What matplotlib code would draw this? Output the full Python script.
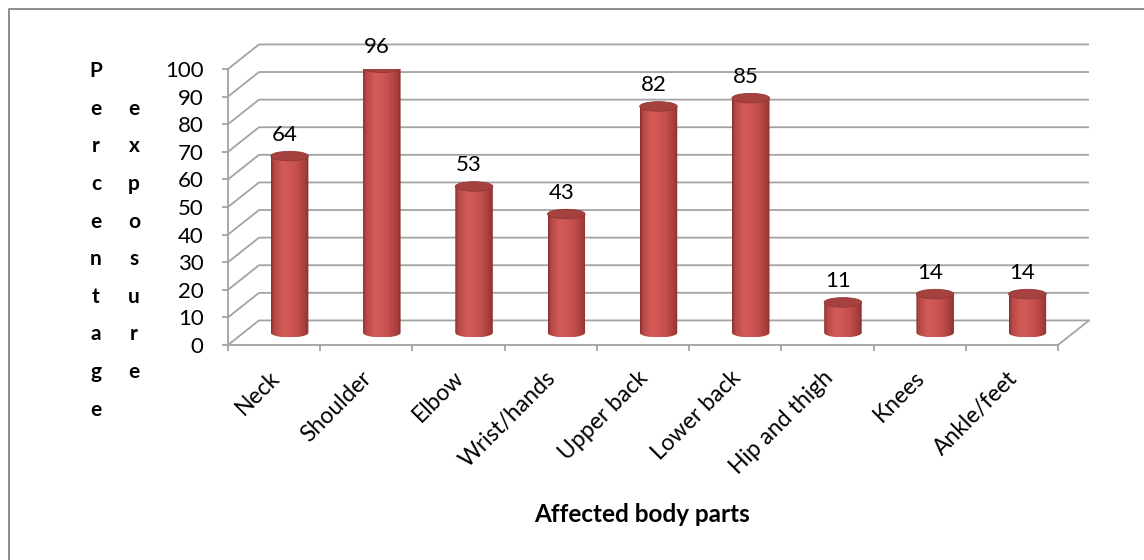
import numpy as np
import matplotlib
matplotlib.use('Agg')
import matplotlib.pyplot as plt
from matplotlib.patches import PathPatch, Ellipse
from matplotlib.path import Path
from matplotlib.colors import LinearSegmentedColormap

# data
parts = ['Neck', 'Shoulder', 'Elbow', 'Wrist/hands', 'Upper back',
         'Lower back', 'Hip and thigh', 'Knees', 'Ankle/feet']
exposure = [64, 96, 53, 43, 82, 85, 11, 14, 14]
y_ticks = list(range(0, 101, 10))
y_title_1 = 'Percentage'
y_title_2 = 'exposure'
x_title = 'Affected body parts'

plt.rcParams['font.family'] = ['Lato', 'DejaVu Sans']

W, H = 1144, 560
fig = plt.figure(figsize=(W / 100, H / 100), dpi=100)
ax = fig.add_axes([228 / W, (H - 345) / H, 830 / W, 276 / H])

# fake 3d depth of the walls (data units)
dx, dy = 0.336, 8.9
grid_col = '#a3a3a3'
n = len(parts)

# left wall + back wall gridlines
for v in y_ticks:
    ax.plot([0, dx, n + dx], [v, v + dy, v + dy], color=grid_col, lw=1.3,
            clip_on=False, zorder=1, solid_capstyle='butt')
# right edge of floor
ax.plot([n, n + dx], [0, dy], color=grid_col, lw=1.3, clip_on=False, zorder=1)

# cylinders
cyl_cmap = LinearSegmentedColormap.from_list('cyl', [
    (0.0, '#8a2f2d'), (0.08, '#b44845'), (0.3, '#d25a57'), (0.45, '#d05855'),
    (0.7, '#c24e4b'), (0.9, '#a53d3b'), (1.0, '#8e302e')])
grad = np.linspace(0, 1, 256).reshape(1, -1)
w = 0.407
ry = 1.72
t = np.linspace(np.pi, 2 * np.pi, 50)
for i, v in enumerate(exposure):
    cx = i + 0.5 + dx / 2
    yb = dy / 2
    yt = v + dy / 2
    x0, x1 = cx - w / 2, cx + w / 2
    verts = [(x0, yt)] + list(zip(cx + w / 2 * np.cos(t), yb + ry * np.sin(t))) \
        + [(x1, yt), (x0, yt)]
    body = PathPatch(Path(verts), transform=ax.transData)
    im = ax.imshow(grad, cmap=cyl_cmap, extent=[x0, x1, yb - ry, yt],
                   aspect='auto', origin='lower', zorder=3)
    im.set_clip_path(body)
    ax.add_patch(Ellipse((cx, yt), w, 2 * ry, facecolor='#a5423f',
                         edgecolor='#933533', lw=0.6, zorder=4))
    ax.text(cx - 0.055, yt + 7.6, str(v), ha='center', va='center',
            fontsize=16, zorder=5)

ax.set_xlim(0, n)
ax.set_ylim(0, 100)
ax.set_facecolor('none')
for s in ['top', 'right']:
    ax.spines[s].set_visible(False)
for s in ['left', 'bottom']:
    ax.spines[s].set_color(grid_col)
    ax.spines[s].set_linewidth(1.3)

ax.set_yticks(y_ticks)
ax.tick_params(axis='y', direction='out', length=4.5, width=1.3,
               color=grid_col, labelsize=16, pad=13)
ax.set_xticks(range(n + 1))
ax.set_xticklabels([])
ax.tick_params(axis='x', which='major', direction='out', length=4.5,
               width=1.3, color=grid_col)
ax.set_xticks(np.arange(n) + 0.5 - 0.06, minor=True)
ax.set_xticklabels(parts, minor=True, rotation=45, ha='right', va='top',
                   rotation_mode='anchor', fontsize=16.5)
ax.tick_params(axis='x', which='minor', length=0, pad=16)

# axis titles
fig.text(642 / W, 1 - 514 / H, x_title, ha='center', va='center',
         fontsize=17.5, fontweight='bold')
for k, ch in enumerate(y_title_1):
    fig.text(96 / W, 1 - (77.3 + 37.6 * k) / H, ch, ha='center',
             va='baseline', fontsize=15, fontweight='bold')
for k, ch in enumerate(y_title_2):
    fig.text(134 / W, 1 - (77.3 + 37.6 * (k + 1)) / H, ch, ha='center',
             va='baseline', fontsize=15, fontweight='bold')

# chart border (right and bottom edges fall outside the picture)
fig.add_artist(plt.Line2D([8.5 / W, 8.5 / W, 1.0], [0.0, 1 - 8.5 / H, 1 - 8.5 / H],
                          color='#8c8c8c', lw=1.4))

fig.savefig('out.png', dpi=100)
